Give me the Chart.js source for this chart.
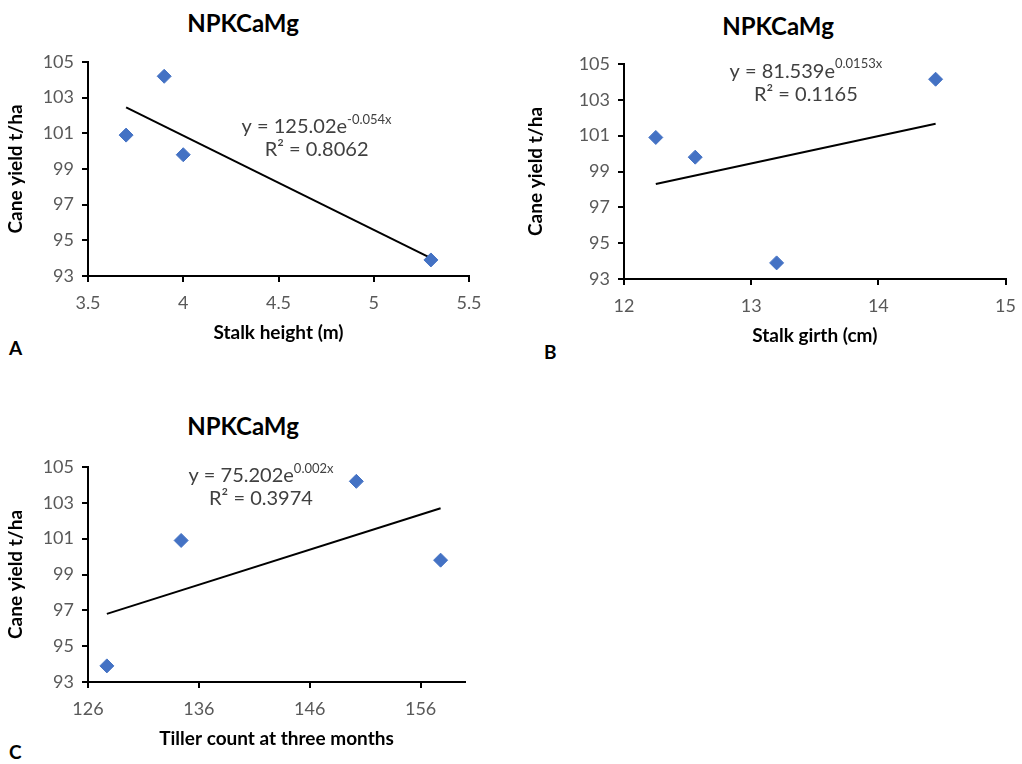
<!DOCTYPE html>
<html>
<head>
<meta charset="utf-8">
<script src="https://cdn.jsdelivr.net/npm/chart.js@4.4.0/dist/chart.umd.min.js"></script>
<style>
  body { margin: 0; background: #fff; width: 1022px; height: 764px; position: relative; overflow: hidden; font-family: Lato, sans-serif; }
  .box { position: absolute; }
  .ttl { position: absolute; font: bold 24px Lato, sans-serif; color: #000; transform: translate(-50%, -50%); white-space: nowrap; }
  .lbl { position: absolute; font: bold 19px Lato, sans-serif; color: #000; }
</style>
</head>
<body>
<div class="ttl" style="left:243px;top:22px">NPKCaMg</div>
<div class="ttl" style="left:778px;top:25px">NPKCaMg</div>
<div class="ttl" style="left:243px;top:425px">NPKCaMg</div>
<div class="lbl" style="left:9px;top:336px">A</div>
<div class="lbl" style="left:544px;top:340px">B</div>
<div class="lbl" style="left:9px;top:740px">C</div>

<div class="box" style="left:0px;top:40px;width:500px;height:308px"><canvas id="chartA"></canvas></div>
<div class="box" style="left:520px;top:40px;width:506px;height:311px"><canvas id="chartB"></canvas></div>
<div class="box" style="left:0px;top:445px;width:500px;height:309px"><canvas id="chartC"></canvas></div>

<script>
// panel A: stalk height
const heightX = [3.7, 3.9, 4.0, 5.3];
const heightY = [100.9, 104.2, 99.8, 93.9];
const heightTrendX = [3.7, 5.3];
const heightTrendY = [102.45, 94.0];

// panel B: stalk girth
const girthX = [12.25, 12.56, 13.2, 14.45];
const girthY = [100.9, 99.8, 93.9, 104.15];
const girthTrendX = [12.25, 14.45];
const girthTrendY = [98.3, 101.67];

// panel C: tiller count
const tillerX = [127.7, 134.4, 150.2, 157.8];
const tillerY = [93.9, 100.9, 104.2, 99.8];
const tillerTrendX = [127.7, 157.8];
const tillerTrendY = [96.8, 102.7];

const yTicks = [93, 95, 97, 99, 101, 103, 105];
const tillerTicks = [126, 136, 146, 156];

const blue = '#4472C4';
const tickColor = '#595959';
const tickFont = { family: 'Lato', size: 18 };
const axisFont = { family: 'Lato', size: 19, weight: 'bold' };

function pts(xs, ys) {
    return xs.map((x, i) => ({ x: x, y: ys[i] }));
}

// trendline equation text
const eqPlugin = {
    id: 'eq',
    afterDatasetsDraw(chart, args, opts) {
        const ctx = chart.ctx;
        const cx = chart.scales.x.getPixelForValue(opts.x);
        const cy = chart.scales.y.getPixelForValue(opts.y);
        ctx.save();
        ctx.fillStyle = '#404040';
        ctx.textBaseline = 'middle';
        ctx.font = '20px Lato';
        const mainW = ctx.measureText(opts.main).width;
        ctx.font = '13px Lato';
        const supW = ctx.measureText(opts.sup).width;
        let x0 = cx - (mainW + supW) / 2;
        ctx.textAlign = 'left';
        ctx.font = '20px Lato';
        ctx.fillText(opts.main, x0, cy);
        ctx.font = '13px Lato';
        ctx.fillText(opts.sup, x0 + mainW, cy - 7);
        ctx.font = '20px Lato';
        ctx.textAlign = 'center';
        ctx.fillText(opts.r2, cx, cy + 23);
        ctx.restore();
    }
};

function makeChart(id, xs, ys, tx, ty, xOpt, xTitle, eq, yWidth, pad) {
    const xScale = Object.assign({
        type: 'linear',
        border: { display: true, color: '#000', width: 2 },
        grid: { display: true, drawOnChartArea: false, drawTicks: true, tickLength: 6, color: '#000', lineWidth: 2 },
        title: { display: true, text: xTitle, color: '#000', font: axisFont, padding: { top: 10 } },
        afterFit: s => { s.height = 72; }
    }, xOpt);
    xScale.ticks = Object.assign({
        color: tickColor, font: tickFont, padding: 10, maxRotation: 0,
        callback: v => String(Math.round(v * 10) / 10)
    }, xOpt.ticks || {});
    return new Chart(document.getElementById(id), {
        type: 'scatter',
        data: {
            datasets: [
                {
                    data: pts(xs, ys),
                    pointStyle: 'rectRot',
                    pointRadius: 7,
                    pointHoverRadius: 7,
                    backgroundColor: blue,
                    borderColor: blue,
                    borderWidth: 1
                },
                {
                    data: pts(tx, ty),
                    showLine: true,
                    borderColor: '#000',
                    borderWidth: 2,
                    pointRadius: 0,
                    fill: false
                }
            ]
        },
        options: {
            responsive: true,
            maintainAspectRatio: false,
            animation: false,
            layout: { padding: pad },
            plugins: {
                legend: { display: false },
                tooltip: { enabled: false },
                eq: eq
            },
            scales: {
                x: xScale,
                y: {
                    type: 'linear',
                    min: 93,
                    max: 105,
                    afterBuildTicks: s => { s.ticks = yTicks.map(v => ({ value: v })); },
                    border: { display: true, color: '#000', width: 2 },
                    grid: { display: true, drawOnChartArea: false, drawTicks: true, tickLength: 6, color: '#000', lineWidth: 2 },
                    ticks: { color: tickColor, font: tickFont, padding: 8 },
                    title: { display: true, text: 'Cane yield t/ha', color: '#000', font: axisFont, padding: { bottom: 4 } },
                    afterFit: s => { s.width = yWidth; }
                }
            }
        },
        plugins: [eqPlugin]
    });
}

makeChart('chartA', heightX, heightY, heightTrendX, heightTrendY,
    { min: 3.5, max: 5.5, ticks: { stepSize: 0.5 } },
    'Stalk height (m)',
    { x: 4.7, y: 101.36, main: 'y = 125.02e', sup: '-0.054x', r2: 'R² = 0.8062' },
    88, { top: 22, right: 31, left: 0, bottom: 0 });

makeChart('chartB', girthX, girthY, girthTrendX, girthTrendY,
    { min: 12, max: 15, ticks: { stepSize: 1 } },
    'Stalk girth (cm)',
    { x: 13.43, y: 104.6, main: 'y = 81.539e', sup: '0.0153x', r2: 'R² = 0.1165' },
    104, { top: 24, right: 12, left: 0, bottom: 0 });

makeChart('chartC', tillerX, tillerY, tillerTrendX, tillerTrendY,
    { min: 126, max: 160, afterBuildTicks: s => { s.ticks = tillerTicks.map(v => ({ value: v })); } },
    'Tiller count at three months',
    { x: 141.6, y: 104.53, main: 'y = 75.202e', sup: '0.002x', r2: 'R² = 0.3974' },
    88, { top: 22, right: 35, left: 0, bottom: 0 });
</script>
</body>
</html>
